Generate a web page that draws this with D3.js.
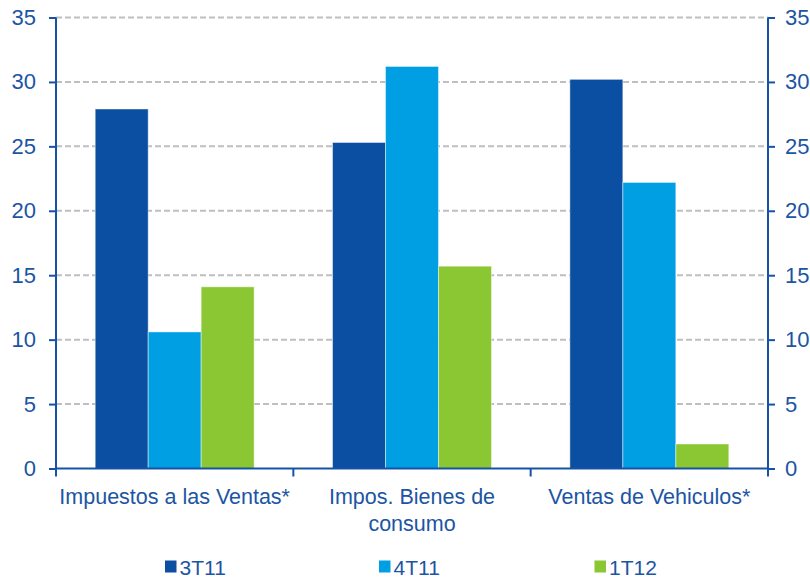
<!DOCTYPE html>
<html>
<head>
<meta charset="utf-8">
<script src="https://cdn.jsdelivr.net/npm/d3@7"></script>
<style>
  html, body { margin: 0; padding: 0; background: #ffffff; }
  svg { display: block; }
  text { font-family: "Liberation Sans", Arial, sans-serif; fill: #1B55A3; }
</style>
</head>
<body>
<svg id="chart" width="810" height="577"></svg>
<script>
const categories = ["Impuestos a las Ventas*", "Impos. Bienes de consumo", "Ventas de Vehiculos*"];
const seriesNames = ["3T11", "4T11", "1T12"];
const values3T11 = [27.9, 25.3, 30.2];
const values4T11 = [10.6, 31.2, 22.2];
const values1T12 = [14.1, 15.7, 1.9];
const yTicks = [0, 5, 10, 15, 20, 25, 30, 35];
const colors = ["#0A4FA2", "#009FE3", "#8AC732"];

const seriesValues = [values3T11, values4T11, values1T12];
const data = categories.map((c, i) => ({
  category: c,
  values: seriesNames.map((s, j) => ({ series: s, value: seriesValues[j][i] }))
}));

const svg = d3.select("#chart");
const mLeft = 56, mRight = 768, mTop = 17.5, mBottom = 468.5;
const axisColor = "#1453A5";

const y = d3.scaleLinear().domain([0, 35]).range([mBottom, mTop]);
const x0 = d3.scaleBand().domain(categories).range([mLeft, mRight]).paddingInner(0).paddingOuter(0);
const x1 = d3.scaleBand().domain(seriesNames).range([0, x0.bandwidth()]).paddingInner(0).paddingOuter(0.74);
const color = d3.scaleOrdinal().domain(seriesNames).range(colors);

// gridlines
svg.append("g").selectAll("line")
  .data(yTicks.filter(t => t > 0))
  .join("line")
  .attr("x1", mLeft).attr("x2", mRight)
  .attr("y1", d => y(d)).attr("y2", d => y(d))
  .attr("stroke", "#BFBFBF")
  .attr("stroke-width", 2)
  .attr("stroke-dasharray", "6,3");

// bars
svg.append("g").selectAll("g")
  .data(data)
  .join("g")
  .attr("transform", d => `translate(${x0(d.category)},0)`)
  .selectAll("rect")
  .data(d => d.values)
  .join("rect")
  .attr("x", d => x1(d.series))
  .attr("width", x1.bandwidth())
  .attr("y", d => y(d.value))
  .attr("height", d => y(0) - y(d.value))
  .attr("fill", d => color(d.series))
  .attr("stroke", "#ffffff")
  .attr("stroke-opacity", 0.45)
  .attr("stroke-width", 1);

// left axis
const leftAxis = d3.axisLeft(y).tickValues(yTicks).tickSize(7).tickPadding(13).tickFormat(d3.format("d"));
const gl = svg.append("g").attr("transform", `translate(${mLeft},0)`).call(leftAxis);
// right axis
const rightAxis = d3.axisRight(y).tickValues(yTicks).tickSize(7).tickPadding(10).tickFormat(d3.format("d"));
const gr = svg.append("g").attr("transform", `translate(${mRight},0)`).call(rightAxis);

[gl, gr].forEach(g => {
  g.select(".domain").remove();
  g.selectAll(".tick line").attr("stroke", axisColor).attr("stroke-width", 2);
  g.selectAll(".tick text").attr("font-size", "22px").attr("fill", "#1B55A3")
    .attr("font-family", "Liberation Sans, Arial, sans-serif");
});
// vertical axis lines (extend down to tick bottom)
svg.append("line").attr("x1", mLeft).attr("x2", mLeft).attr("y1", y(35)).attr("y2", mBottom + 8)
  .attr("stroke", axisColor).attr("stroke-width", 2);
svg.append("line").attr("x1", mRight).attr("x2", mRight).attr("y1", y(35)).attr("y2", mBottom + 8)
  .attr("stroke", axisColor).attr("stroke-width", 2);

// bottom axis line
svg.append("line").attr("x1", mLeft).attr("x2", mRight).attr("y1", y(0)).attr("y2", y(0))
  .attr("stroke", axisColor).attr("stroke-width", 2);
// category boundary ticks
const bounds = categories.slice(1).map(c => x0(c));
svg.append("g").selectAll("line").data(bounds).join("line")
  .attr("x1", d => d).attr("x2", d => d)
  .attr("y1", y(0)).attr("y2", y(0) + 8)
  .attr("stroke", axisColor).attr("stroke-width", 2);

// category labels with wrapping
const labelG = svg.append("g");
const maxW = x0.bandwidth() - 6;
categories.forEach(c => {
  const cx = x0(c) + x0.bandwidth() / 2;
  const t = labelG.append("text")
    .attr("x", cx).attr("y", 504)
    .attr("text-anchor", "middle")
    .attr("font-size", "21.5px");
  const words = c.split(" ");
  let line = [];
  let lineNo = 0;
  let tspan = t.append("tspan").attr("x", cx).attr("y", 504);
  words.forEach(w => {
    line.push(w);
    tspan.text(line.join(" "));
    if (tspan.node().getComputedTextLength() > maxW && line.length > 1) {
      line.pop();
      tspan.text(line.join(" "));
      line = [w];
      lineNo++;
      tspan = t.append("tspan").attr("x", cx).attr("y", 504 + lineNo * 27).text(w);
    }
  });
});

// legend
const legendX = [165, 379, 594.5];
const legend = svg.append("g").selectAll("g")
  .data(seriesNames)
  .join("g")
  .attr("transform", (d, i) => `translate(${legendX[i]},0)`);
legend.append("rect")
  .attr("x", 0).attr("y", 560.5).attr("width", 11.5).attr("height", 12)
  .attr("fill", d => color(d));
legend.append("text")
  .attr("x", 14.5).attr("y", 574.5)
  .attr("font-size", "21px")
  .text(d => d);
</script>
</body>
</html>
